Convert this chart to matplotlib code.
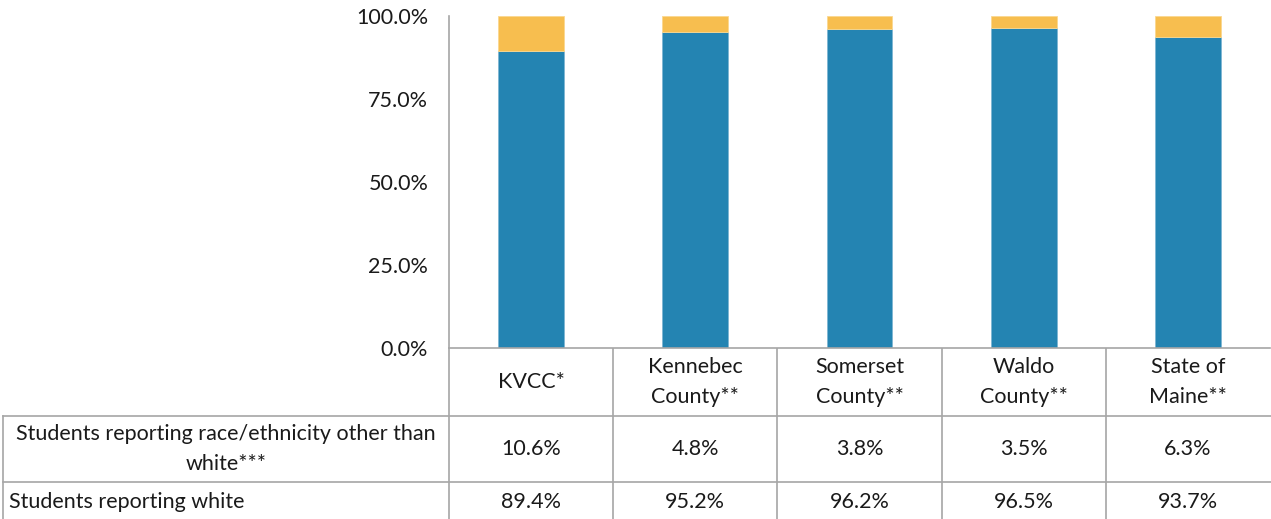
import matplotlib.pyplot as plt
from matplotlib.lines import Line2D
import numpy as np

plt.rcParams['font.family'] = ['Lato', 'DejaVu Sans']

categories = ['KVCC*', 'Kennebec\nCounty**', 'Somerset\nCounty**', 'Waldo\nCounty**', 'State of\nMaine**']
white = [89.4, 95.2, 96.2, 96.5, 93.7]
other = [10.6, 4.8, 3.8, 3.5, 6.3]
row_labels = ['Students reporting race/ethnicity other than\nwhite***', 'Students reporting white']
yticks = [0, 25, 50, 75, 100]

blue = '#2484B2'
gold = '#F7BE4F'
grid_c = '#A6A6A6'
txt_c = '#1a1a1a'
fs = 15.5

W, H = 1271, 519
fig = plt.figure(figsize=(W / 100, H / 100), dpi=100)

# pixel layout
left, right, top, bottom = 449, 1270, 16, 348
ax = fig.add_axes([left / W, 1 - bottom / H, (right - left) / W, (bottom - top) / H])

x = np.arange(len(categories))
ax.bar(x, white, width=0.4, color=blue, edgecolor='#7fb6d3', linewidth=0.6)
ax.bar(x, other, width=0.4, bottom=white, color=gold, edgecolor='#fad890', linewidth=0.6)
ax.set_xlim(-0.5, len(categories) - 0.5)
ax.set_ylim(0, 100)
ax.set_yticks(yticks)
ax.set_yticklabels([f'{v:.1f}%' for v in yticks], fontsize=fs, color=txt_c)
ax.tick_params(axis='y', length=0, pad=15)
ax.set_xticks([])
for s in ['top', 'right']:
    ax.spines[s].set_visible(False)
for s in ['left', 'bottom']:
    ax.spines[s].set_color(grid_c)
    ax.spines[s].set_linewidth(1.2)

# data table below the chart, drawn in pixel coordinates
tab = fig.add_axes([0, 0, 1, 1], zorder=-1)
tab.set_xlim(0, W)
tab.set_ylim(H, 0)
tab.axis('off')

cw = (right - left) / len(categories)
row_edges = [bottom, 416, 482, H + 5]
lw = 1.2
for i in range(len(categories)):
    xe = left + i * cw
    tab.add_line(Line2D([xe, xe], [bottom, H + 5], color=grid_c, lw=lw))
tab.add_line(Line2D([3, 3], [416, H + 5], color=grid_c, lw=lw))
for ye in row_edges[1:3]:
    tab.add_line(Line2D([3, W + 5], [ye, ye], color=grid_c, lw=lw))

for i, c in enumerate(categories):
    cx = left + (i + 0.5) * cw
    tab.text(cx, (row_edges[0] + row_edges[1]) / 2, c, ha='center', va='center',
             fontsize=fs, color=txt_c, linespacing=1.6)
    tab.text(cx, (row_edges[1] + row_edges[2]) / 2, f'{other[i]:.1f}%', ha='center', va='center',
             fontsize=fs, color=txt_c)
    tab.text(cx, 502, f'{white[i]:.1f}%', ha='center', va='center',
             fontsize=fs, color=txt_c)

tab.text(226, (row_edges[1] + row_edges[2]) / 2, row_labels[0], ha='center', va='center',
         fontsize=fs, color=txt_c, linespacing=1.6)
tab.text(9, 502, row_labels[1], ha='left', va='center', fontsize=fs, color=txt_c)

fig.savefig('out.png', dpi=100)
